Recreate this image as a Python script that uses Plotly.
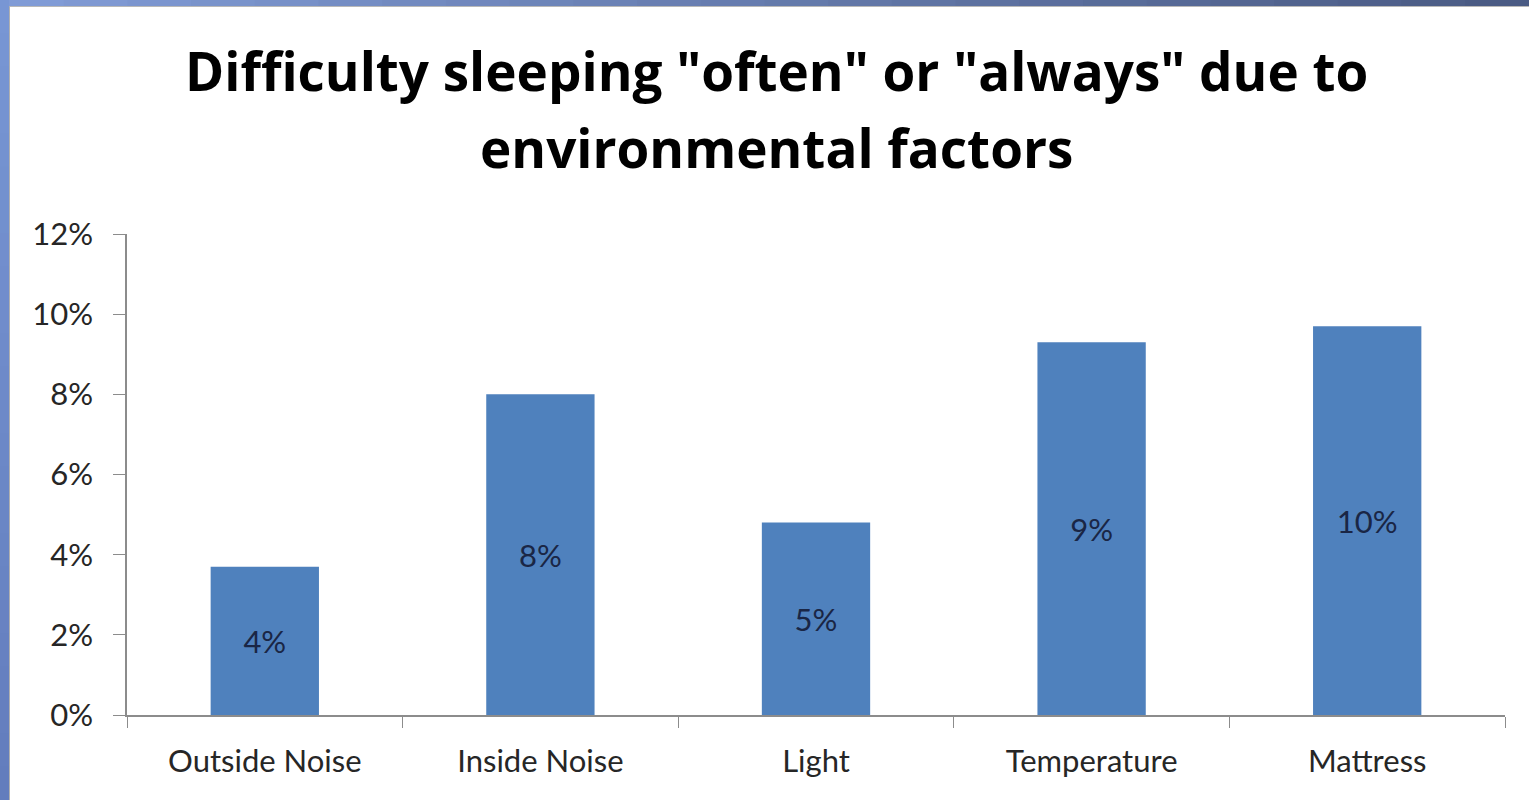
import plotly.graph_objects as go

# Survey results: share of respondents reporting sleep trouble "often" or "always"
factors = ["Outside Noise", "Inside Noise", "Light", "Temperature", "Mattress"]
shares = [0.037, 0.080, 0.048, 0.093, 0.097]
y_ticks = [0, 0.02, 0.04, 0.06, 0.08, 0.10, 0.12]
title_lines = ['Difficulty sleeping "often" or "always" due to', "environmental factors"]

W, H = 1529, 800
L, R, T, B = 127, 24, 234, 85
pw, ph = W - L - R, H - T - B


def px_x(px):
    return (px - L) / pw


def px_y(py):
    return (H - B - py) / ph


def mix(c1, c2, t):
    return "rgb(%d,%d,%d)" % tuple(round(a + (b - a) * t) for a, b in zip(c1, c2))


LABEL_FONT = "Lato, Open Sans, sans-serif"

fig = go.Figure(
    go.Bar(
        x=factors,
        y=shares,
        marker=dict(color="#4F81BD", line=dict(width=0)),
        texttemplate="%{y:.0%}",
        textposition="inside",
        insidetextanchor="middle",
        textangle=0,
        textfont=dict(family=LABEL_FONT, size=31, color="#1A2645"),
        hoverinfo="skip",
    )
)

# slide frame: blue bands along the top and left edges
shapes = []
n = 24
for i in range(n):
    t0, t1 = i / n, (i + 1) / n
    shapes.append(dict(
        type="rect", xref="paper", yref="paper", layer="above",
        x0=px_x(W * t0), x1=px_x(W * t1 + 1), y0=px_y(0), y1=px_y(6),
        fillcolor=mix((128, 155, 214), (72, 88, 128), t0), line=dict(width=0),
    ))
    shapes.append(dict(
        type="rect", xref="paper", yref="paper", layer="above",
        x0=px_x(0), x1=px_x(9), y0=px_y(H * t0), y1=px_y(H * t1 + 1),
        fillcolor=mix((120, 150, 212), (98, 124, 188), t0), line=dict(width=0),
    ))
shapes.append(dict(
    type="line", xref="paper", yref="paper", layer="above",
    x0=px_x(9), x1=px_x(W), y0=px_y(6.5), y1=px_y(6.5),
    line=dict(color="#B8B8B8", width=1),
))
shapes.append(dict(
    type="line", xref="paper", yref="paper", layer="above",
    x0=px_x(9.5), x1=px_x(9.5), y0=px_y(6), y1=px_y(H),
    line=dict(color="#B0B0B0", width=1),
))

# two-line chart title, one annotation per line for exact line spacing
title_baselines = [93, 170]
annotations = [
    dict(
        text=line, xref="paper", yref="paper",
        x=px_x(776), y=px_y(base), xanchor="center", yanchor="bottom",
        showarrow=False, yshift=-16,
        font=dict(family="Open Sans, sans-serif", size=53, color="#000000", weight="bold"),
    )
    for line, base in zip(title_lines, title_baselines)
]

fig.update_layout(
    width=W,
    height=H,
    margin=dict(l=L, r=R, t=T, b=B, pad=0),
    paper_bgcolor="white",
    plot_bgcolor="white",
    showlegend=False,
    bargap=0.607,
    shapes=shapes,
    annotations=annotations,
    font=dict(family=LABEL_FONT, size=31, color="#262626"),
)

fig.update_xaxes(
    showgrid=False,
    showline=True,
    linecolor="#8C8C8C",
    linewidth=1.5,
    ticks="outside",
    tickson="boundaries",
    ticklen=11,
    tickwidth=1.2,
    tickcolor="#8C8C8C",
    ticklabelstandoff=18,
    tickfont=dict(size=31, color="#262626"),
    zeroline=False,
)
fig.update_yaxes(
    range=[0, 0.12],
    tickvals=y_ticks,
    tickformat=".0%",
    showgrid=False,
    showline=True,
    linecolor="#8C8C8C",
    linewidth=1.5,
    ticks="outside",
    ticklen=12,
    tickwidth=1.2,
    tickcolor="#8C8C8C",
    ticklabelstandoff=14,
    tickfont=dict(size=31, color="#262626"),
    zeroline=False,
)

fig.write_html("out.html")
